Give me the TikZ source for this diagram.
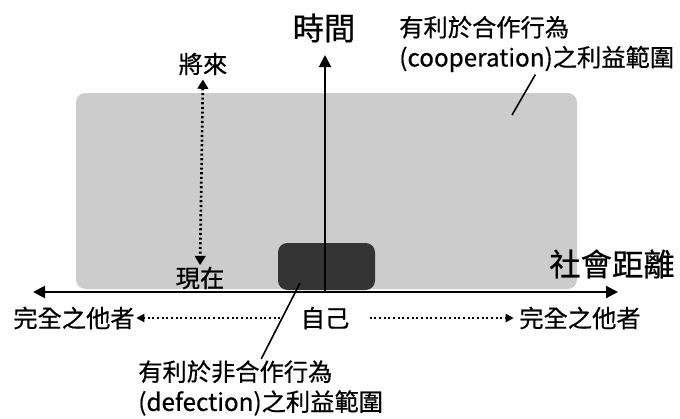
\documentclass[tikz,border=0pt]{standalone}
\usepackage{fontspec}
\setmainfont{Noto Sans CJK TC}[FakeBold=0.6]
\usepackage{tikz}
\usetikzlibrary{arrows.meta}

\definecolor{coopgray}{RGB}{204,204,204}
\definecolor{defgray}{RGB}{52,52,52}

\tikzset{
  lbl/.style={inner sep=0pt, font=\fontsize{18.2}{22.5}\selectfont},
  biglbl/.style={inner sep=0pt, font=\fontsize{23.5}{27}\selectfont},
  axis/.style={line width=1.5pt},
  dotarrow/.style={line width=2pt, dash pattern=on 1.6pt off 1.9pt},
  leader/.style={line width=1.2pt},
}

\begin{document}
\begin{tikzpicture}[x=0.75pt,y=0.75pt,yscale=-1,xscale=1]
    \useasboundingbox (0,0) rectangle (680,418);
    % regions
    \draw [fill=coopgray, draw=none, rounded corners=7pt] (76,93) rectangle (577,289);
    \draw [fill=defgray, draw=none, rounded corners=7pt] (278,243) rectangle (375,290);

    \coordinate (xl) at (33,292);
    \coordinate (xr) at (618,292);
    \coordinate (o) at (325,292);
    \coordinate (yt) at (325,55);
    \coordinate (coopend) at (512,115);
    \coordinate (defend) at (300,283);

    \node (time) [biglbl] at (324,28) {時間};
    \node (dist) [biglbl] at (612,264) {社會距離};
    \node (future) [lbl] at (203,64) {將來};
    \node (now) [lbl] at (200,278) {現在};
    \node (self) [lbl] at (325,318) {自己};
    \node (otherL) [lbl] at (74,318) {完全之他者};
    \node (otherR) [lbl] at (580,318) {完全之他者};
    \node (coopnote) [lbl, align=left, anchor=west] at (399,44) {有利於合作行為\\(cooperation)之利益範圍};
    \node (defnote) [lbl, align=left, anchor=west] at (138,388) {有利於非合作行為\\(defection)之利益範圍};

    % axes
    \draw [axis, {Triangle[length=9pt,width=9pt]}-{Triangle[length=9pt,width=9pt]}] (xl) -- (xr);
    \draw [axis, -{Triangle[length=9pt,width=9pt]}] (o) -- (yt);

    % dotted arrows
    \draw [dotarrow, {Triangle[length=7pt,width=8pt]}-{Triangle[length=7pt,width=8pt]}, shorten <=3pt, shorten >=1pt] (future.south) -- (now.north);
    \draw [dotarrow, -{Triangle[length=6pt,width=6pt]}] ([xshift=-15pt]self.west) -- ([xshift=1pt]otherL.east);
    \draw [dotarrow, -{Triangle[length=6pt,width=6pt]}] ([xshift=15pt]self.east) -- ([xshift=-4pt]otherR.west);

    % leaders
    \draw [leader, shorten <=2pt] (coopnote.south) -- (coopend);
    \draw [leader, shorten <=1pt] (defnote.north) -- (defend);
\end{tikzpicture}
\end{document}
